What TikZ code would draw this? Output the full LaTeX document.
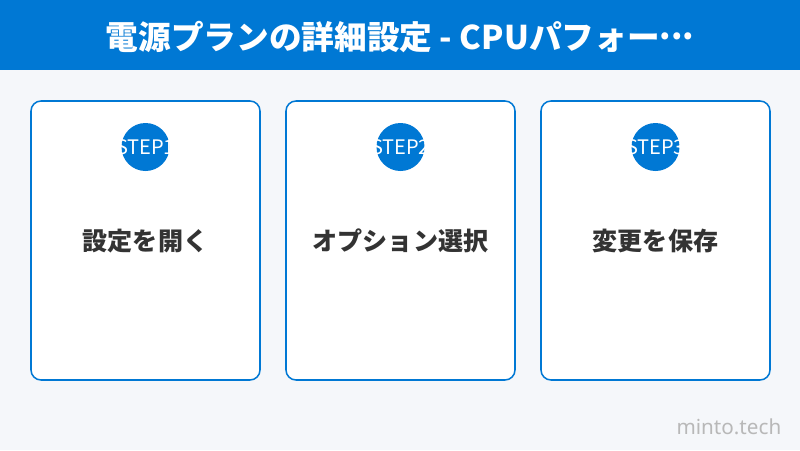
\documentclass[tikz,border=0pt]{standalone}
\usepackage{fontspec}
\setmainfont{Noto Sans}
\newfontfamily\jp{Noto Sans CJK JP}
\definecolor{msblue}{HTML}{0078D4}
\definecolor{bgc}{HTML}{F5F7FA}
\definecolor{txt}{HTML}{333333}
\definecolor{wm}{HTML}{B8B8B8}
\tikzset{
  card/.style={draw=msblue, line width=1.15pt, fill=white, rounded corners=7.5pt},
  stepdot/.style={circle, fill=msblue, minimum size=36pt, inner sep=0pt},
  steptxt/.style={text=white, font=\jp\fontsize{15}{15}\selectfont},
  cardlbl/.style={text=txt, font=\jp\bfseries\fontsize{18.8}{20}\selectfont},
}
\begin{document}
\begin{tikzpicture}[x=0.75pt,y=-0.75pt]
\useasboundingbox (0,0) rectangle (800,450);
\fill[bgc] (0,0) rectangle (800,70);
\fill[bgc] (0,0) rectangle (800,450);
\fill[msblue] (0,0) rectangle (800,70);
\node[text=white, font=\jp\bfseries\fontsize{24.5}{26}\selectfont] (title) at (400,37) {電源プランの詳細設定 - CPUパフォー\raisebox{0.3em}{...}};
\foreach \i/\x/\lbl in {1/31/設定を開く, 2/286/オプション選択, 3/541/変更を保存} {
  \draw[card] (\x,101) rectangle ++(229,279);
  \node[stepdot] (dot\i) at (\x+114.5,147) {};
  \node[steptxt] (st\i) at (dot\i) {STEP\i};
  \node[cardlbl] (lbl\i) at (\x+114.5,241) {\lbl};
}
\node[text=wm, font=\fontsize{15.5}{15}\selectfont, anchor=east] (wmk) at (786,427) {minto.tech};
\end{tikzpicture}
\end{document}
